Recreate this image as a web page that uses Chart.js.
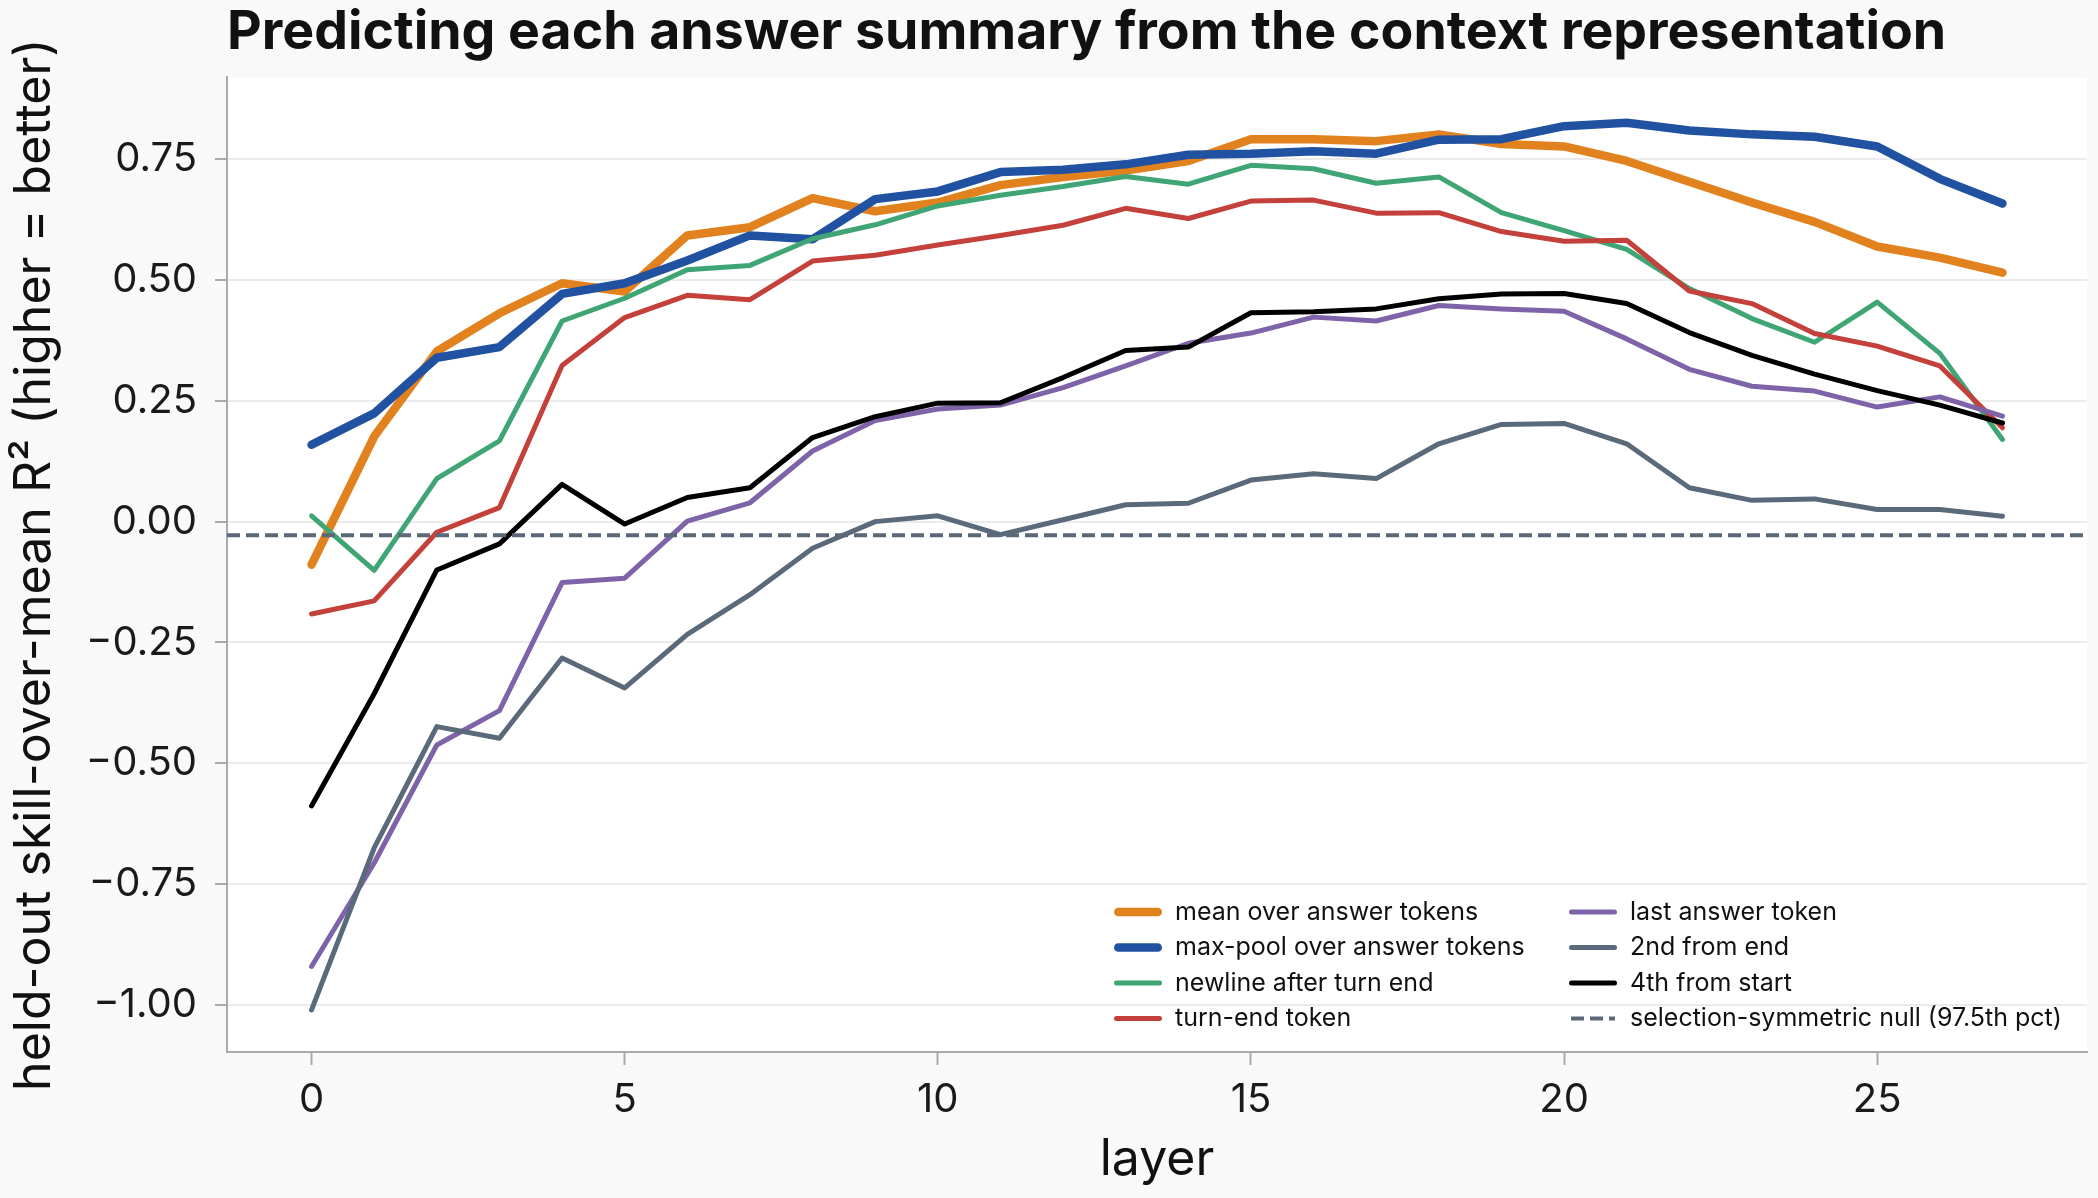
<!DOCTYPE html>
<html>
<head>
<meta charset="utf-8">
<script src="https://cdn.jsdelivr.net/npm/chart.js@4.4.1/dist/chart.umd.min.js"></script>
<style>
html,body{margin:0;padding:0;background:#f9f9f9;}
#wrap{width:2098px;height:1198px;position:relative;}
canvas{display:block;}
</style>
</head>
<body>
<div id="wrap"><canvas id="c" width="2098" height="1198"></canvas></div>
<script>
// ---- data ----
const layers = [0,1,2,3,4,5,6,7,8,9,10,11,12,13,14,15,16,17,18,19,20,21,22,23,24,25,26,27];

const meanOverAnswer = [-0.089,0.176,0.352,0.431,0.493,0.476,0.592,0.609,0.669,0.642,0.660,0.696,0.713,0.726,0.746,0.791,0.791,0.787,0.801,0.781,0.776,0.746,0.703,0.660,0.620,0.569,0.546,0.515];
const maxPoolOverAnswer = [0.159,0.224,0.339,0.361,0.471,0.493,0.540,0.592,0.584,0.667,0.683,0.723,0.728,0.739,0.759,0.761,0.766,0.761,0.790,0.791,0.818,0.825,0.809,0.801,0.796,0.776,0.709,0.658];
const newlineAfterTurnEnd = [0.012,-0.101,0.089,0.167,0.415,0.462,0.521,0.530,0.585,0.614,0.653,0.675,0.693,0.714,0.698,0.737,0.730,0.700,0.713,0.639,0.602,0.563,0.482,0.420,0.371,0.454,0.348,0.170];
const turnEndToken = [-0.191,-0.164,-0.022,0.029,0.323,0.422,0.468,0.459,0.539,0.551,0.572,0.592,0.613,0.648,0.627,0.663,0.665,0.638,0.639,0.600,0.580,0.582,0.477,0.451,0.389,0.363,0.322,0.194];
const lastAnswerToken = [-0.920,-0.706,-0.462,-0.391,-0.126,-0.117,0.001,0.039,0.146,0.209,0.233,0.241,0.277,0.322,0.369,0.390,0.423,0.415,0.447,0.440,0.435,0.378,0.315,0.280,0.270,0.237,0.258,0.218];
const secondFromEnd = [-1.010,-0.675,-0.424,-0.448,-0.282,-0.344,-0.233,-0.151,-0.055,0.000,0.012,-0.027,0.004,0.035,0.038,0.086,0.099,0.089,0.161,0.201,0.203,0.161,0.070,0.044,0.047,0.025,0.025,0.011];
const fourthFromStart = [-0.588,-0.356,-0.100,-0.046,0.077,-0.005,0.050,0.070,0.174,0.217,0.245,0.246,0.298,0.354,0.361,0.432,0.434,0.440,0.461,0.471,0.472,0.451,0.391,0.344,0.305,0.271,0.241,0.204];
const nullLevel = -0.028;

const seriesLabels = [
  'mean over answer tokens',
  'max-pool over answer tokens',
  'newline after turn end',
  'turn-end token',
  'last answer token',
  '2nd from end',
  '4th from start',
  'selection-symmetric null (97.5th pct)'
];

const xTicks = [0,5,10,15,20,25];
const yTicks = [-1.00,-0.75,-0.50,-0.25,0.00,0.25,0.50,0.75];
const xLimits = [-1.35, 28.35];
const yLimits = [-1.097, 0.919];

const titleText = 'Predicting each answer summary from the context representation';
const xTitle = 'layer';
const yTitle = 'held-out skill-over-mean R\u00B2 (higher = better)';

// legend arrangement: two columns of dataset indices
const legendColumns = [[0,1,2,3],[4,5,6,7]];

// ---- styles ----
const FONT = 'Inter';
const styles = [
  {color:'#e1821f', width:8.5},
  {color:'#2151a1', width:8.5},
  {color:'#40a574', width:5},
  {color:'#c4403a', width:5},
  {color:'#7e63a8', width:5},
  {color:'#5a6a7a', width:5},
  {color:'#000000', width:5},
  {color:'#5a6878', width:4, dash:[13,6]}
];

const seriesValues = [meanOverAnswer, maxPoolOverAnswer, newlineAfterTurnEnd, turnEndToken,
                      lastAnswerToken, secondFromEnd, fourthFromStart];

const datasets = seriesValues.map((vals, i) => ({
  label: seriesLabels[i],
  data: layers.map((x, k) => ({x: x, y: vals[k]})),
  borderColor: styles[i].color,
  backgroundColor: styles[i].color,
  borderWidth: styles[i].width,
  pointRadius: 0,
  tension: 0,
  fill: false,
  borderCapStyle: 'round',
  borderJoinStyle: 'round',
  order: 20 - i
}));
datasets.push({
  label: seriesLabels[7],
  data: xLimits.map(x => ({x: x, y: nullLevel})),
  borderColor: styles[7].color,
  backgroundColor: styles[7].color,
  borderWidth: styles[7].width,
  borderDash: styles[7].dash,
  borderCapStyle: 'butt',
  pointRadius: 0,
  fill: false,
  order: 1
});

const bgPlugin = {
  id: 'bg',
  beforeDraw(chart) {
    const {ctx, chartArea: ca, width, height} = chart;
    ctx.save();
    ctx.fillStyle = '#f9f9f9';
    ctx.fillRect(0, 0, width, height);
    ctx.fillStyle = '#ffffff';
    ctx.fillRect(ca.left, ca.top, ca.right - ca.left, ca.bottom - ca.top);
    ctx.restore();
  }
};

const colLegend = {
  id: 'colLegend',
  afterDatasetsDraw(chart) {
    const {ctx, chartArea: ca} = chart;
    const ds = chart.data.datasets;
    const colX = [ca.right - 973, ca.right - 518];
    const y0 = ca.bottom - 140;
    const dy = 35.5;
    const handleLen = 48;
    ctx.save();
    ctx.font = '25px ' + FONT;
    ctx.textBaseline = 'middle';
    ctx.textAlign = 'left';
    legendColumns.forEach((col, ci) => {
      col.forEach((idx, ri) => {
        const d = ds[idx];
        const x = colX[ci];
        const y = y0 + ri * dy;
        ctx.beginPath();
        ctx.strokeStyle = d.borderColor;
        ctx.lineWidth = d.borderWidth;
        if (d.borderDash) {
          ctx.setLineDash(d.borderDash);
          ctx.lineCap = 'butt';
        } else {
          ctx.setLineDash([]);
          ctx.lineCap = 'round';
        }
        const inset = d.borderDash ? 2 : d.borderWidth / 2;
        ctx.moveTo(x + inset, y);
        ctx.lineTo(x + handleLen - inset, y);
        ctx.stroke();
        ctx.setLineDash([]);
        ctx.fillStyle = '#111111';
        ctx.fillText(d.label, x + handleLen + 13, y);
      });
    });
    ctx.restore();
  }
};

const fmtY = v => (v < 0 ? '\u2212' : '') + Math.abs(v).toFixed(2);

new Chart(document.getElementById('c'), {
  type: 'line',
  data: { datasets: datasets },
  plugins: [bgPlugin, colLegend],
  options: {
    responsive: false,
    devicePixelRatio: 1,
    animation: false,
    layout: { padding: {left: 0, right: 11, top: 0, bottom: 0} },
    plugins: {
      legend: { display: false },
      tooltip: { enabled: false },
      title: {
        display: true,
        text: titleText,
        align: 'start',
        fullSize: false,
        color: '#111111',
        font: {family: FONT, size: 53.6, weight: 'bold'},
        padding: {top: 1, bottom: 12}
      }
    },
    scales: {
      x: {
        type: 'linear',
        min: xLimits[0],
        max: xLimits[1],
        afterBuildTicks: s => { s.ticks = xTicks.map(v => ({value: v})); },
        afterFit: s => { s.height = 146; },
        ticks: {
          autoSkip: false, maxRotation: 0,
          color: '#1a1a1a',
          font: {family: FONT, size: 40},
          padding: 11,
          callback: v => String(v)
        },
        grid: {
          display: true, drawOnChartArea: false, drawTicks: true,
          tickLength: 13, tickColor: '#aaaaaa', tickWidth: 2
        },
        border: {display: true, color: '#aaaaaa', width: 2},
        title: {
          display: true, text: xTitle, color: '#111111',
          font: {family: FONT, size: 50},
          padding: {top: 0, bottom: 8}
        }
      },
      y: {
        type: 'linear',
        min: yLimits[0],
        max: yLimits[1],
        afterBuildTicks: s => { s.ticks = yTicks.map(v => ({value: v})); },
        afterFit: s => { s.width = 227; },
        ticks: {
          color: '#1a1a1a',
          font: {family: FONT, size: 40},
          padding: 18,
          callback: v => fmtY(v)
        },
        grid: {
          display: true, drawOnChartArea: true, drawTicks: true,
          color: '#ebebeb', lineWidth: 2,
          tickLength: 12, tickColor: '#aaaaaa', tickWidth: 2
        },
        border: {display: true, color: '#aaaaaa', width: 2},
        title: {
          display: true, text: yTitle, color: '#111111',
          font: {family: FONT, size: 50},
          padding: {top: 5, bottom: 0}
        }
      }
    }
  }
});
</script>
</body>
</html>
